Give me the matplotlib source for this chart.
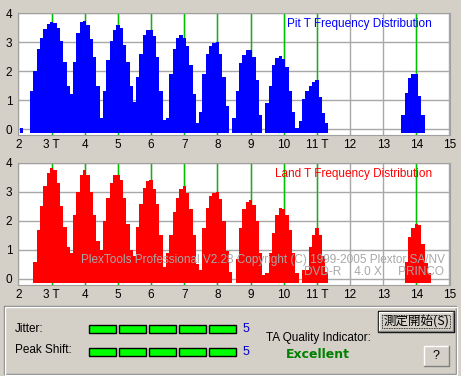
import numpy as np
import matplotlib.pyplot as plt
from matplotlib.patches import Rectangle

# histogram bins, 0.1 T wide (bin centres 2.0 ... 14.9)
t_edges = np.round(np.arange(1.95, 15.0, 0.1), 2)

pit_counts = [
    0, 0.05, 0, 0, 1.3, 2.0, 2.75, 3.15, 3.45, 3.63,      # 2.x
    3.69, 3.66, 3.5, 3.05, 2.3, 1.5, 1.2, 2.3, 3.3, 3.68,  # 3.x
    3.74, 3.6, 3.1, 2.5, 1.5, 0.4, 1.3, 2.4, 3.05, 3.4,    # 4.x
    3.58, 3.5, 2.9, 2.3, 1.5, 0.95, 1.8, 2.6, 3.25, 3.4,   # 5.x
    3.42, 3.2, 2.5, 1.3, 0.33, 0.4, 1.9, 2.75, 3.15, 3.25, # 6.x
    3.15, 2.85, 2.2, 1.2, 0.23, 0.6, 1.9, 2.6, 2.85, 2.97, # 7.x
    3.0, 2.6, 1.8, 0.8, 0, 0.4, 1.3, 2.28, 2.57, 2.72,     # 8.x
    2.72, 2.5, 1.7, 0.5, 0, 0.9, 1.5, 2.2, 2.45, 2.51,     # 9.x
    2.42, 2.15, 1.3, 0.6, 0.05, 0.3, 1.05, 1.3, 1.5, 1.62, # 10.x
    1.7, 1.1, 0.55, 0.2, 0, 0, 0, 0, 0, 0,                 # 11.x
    0, 0, 0, 0, 0, 0, 0, 0, 0, 0,                          # 12.x
    0, 0, 0, 0, 0, 0, 0.5, 1.25, 1.75, 1.9,                # 13.x
    1.9, 1.15, 0.5, 0, 0, 0, 0, 0, 0, 0,                   # 14.x
]

land_counts = [
    0, 0, 0, 0, 0, 0.6, 1.7, 2.5, 3.2, 3.65,               # 2.x
    3.84, 3.75, 3.3, 2.5, 1.8, 1.1, 0.9, 2.2, 3.0, 3.6,    # 3.x
    3.75, 3.6, 3.0, 2.2, 1.3, 1.0, 2.0, 2.8, 3.3, 3.57,    # 4.x
    3.6, 3.4, 2.8, 1.9, 1.0, 0.8, 1.8, 2.6, 3.15, 3.37,    # 5.x
    3.4, 3.1, 2.6, 1.5, 0.4, 0.9, 1.5, 2.3, 2.8, 3.1,      # 6.x
    3.2, 2.95, 2.4, 1.5, 0.5, 0.3, 1.75, 2.45, 2.85, 2.97, # 7.x
    3.0, 2.75, 2.0, 0.95, 0.25, 0, 0.7, 1.75, 2.4, 2.66,   # 8.x
    2.71, 2.55, 2.0, 0.9, 0.15, 0.2, 0.9, 1.6, 2.2, 2.45,  # 9.x
    2.43, 2.2, 1.7, 0.9, 0.2, 0, 0.3, 0.3, 1.1, 1.5,       # 10.x
    1.77, 1.5, 0.8, 0.25, 0, 0, 0, 0, 0, 0,                # 11.x
    0, 0, 0, 0, 0, 0, 0, 0, 0, 0,                          # 12.x
    0, 0, 0, 0, 0, 0, 0, 0.6, 1.45, 1.75,                  # 13.x
    1.88, 1.87, 1.2, 0.55, 0.2, 0, 0, 0, 0, 0,             # 14.x
]

x_ticks = list(range(2, 16))
x_labels = ["2", "3 T", "4", "5", "6", "7", "8", "9", "10", "11 T", "12", "13", "14", "15"]
t_marks = [3, 4, 5, 6, 7, 8, 9, 10, 11, 14]

jitter_level = 5
peak_shift_level = 5
quality = "Excellent"

BG = "#D4D0C8"
BASE = -0.14
plt.rcParams["font.family"] = ["Liberation Sans", "DejaVu Sans"]

fig = plt.figure(figsize=(4.61, 3.76), dpi=100, facecolor=BG)


def draw_hist(rect, counts, color, title):
    ax = fig.add_axes(rect)
    ax.set_facecolor("white")
    counts = np.array(counts, dtype=float)
    vals = np.where(counts > 0, counts, BASE)
    ax.stairs(vals, t_edges, baseline=BASE, fill=True, color=color, lw=0, zorder=3)
    for t in t_marks:
        ax.axvline(t, color="#00C000", lw=1, zorder=2)
    ax.set_xlim(1.985, 15.015)
    ax.set_ylim(-0.2, 4)
    ax.set_xticks(x_ticks)
    ax.set_xticklabels(x_labels)
    ax.set_yticks(range(0, 5))
    ax.grid(True, color="#A8A8A8", lw=1, zorder=1)
    ax.set_axisbelow(True)
    ax.tick_params(length=0, labelsize=8.5, pad=3)
    ax.tick_params(axis="y", pad=4)
    for s in ax.spines.values():
        s.set_color("#A0A0A0")
    ax.text(0.958, 0.91, title, transform=ax.transAxes, ha="right", va="center",
            color=color, fontsize=8.5, zorder=5)
    return ax


ax_pit = draw_hist([0.0390, 0.6407, 0.9371, 0.3247], pit_counts, "#0000FF",
                   "Pit T Frequency Distribution")
ax_land = draw_hist([0.0390, 0.2426, 0.9371, 0.3239], land_counts, "#FF0000",
                    "Land T Frequency Distribution")

ax_land.text(0.988, 0.204, "PlexTools Professional V2.28 Copyright (C) 1999-2005 Plextor SA/NV",
             transform=ax_land.transAxes, ha="right", va="center", color="#A8A8A8",
             fontsize=8.5, zorder=6)
ax_land.text(0.986, 0.105, "DVD-R    4.0 X     PRINCO",
             transform=ax_land.transAxes, ha="right", va="center", color="#A8A8A8",
             fontsize=8.5, zorder=6)

# bottom status panel, drawn in pixel coordinates
ui = fig.add_axes([0, 0, 1, 1], zorder=10)
ui.set_xlim(0, 461)
ui.set_ylim(376, 0)
ui.axis("off")
ui.patch.set_visible(False)

ui.add_patch(Rectangle((3.5, 305.5), 452, 68, fill=False, ec="#808080", lw=1))
ui.add_patch(Rectangle((4.5, 306.5), 452, 68, fill=False, ec="white", lw=1))

ui.text(15, 328.5, "Jitter:", ha="left", va="center", fontsize=8.5)
ui.text(15, 350, "Peak Shift:", ha="left", va="center", fontsize=8.5)

for row_y, level in [(324.5, jitter_level), (347.5, peak_shift_level)]:
    for i in range(level):
        ui.add_patch(Rectangle((88.5 + 30 * i, row_y), 27, 8, fc="#00FF00", ec="black", lw=1))
    ui.text(246, row_y + 4.5, str(level), ha="center", va="center",
            color="#0000C8", fontsize=9)

ui.text(318, 338, "TA Quality Indicator:", ha="center", va="center", fontsize=8.5)
ui.text(318, 355, quality, ha="center", va="center", color="#008000",
        fontsize=9, fontweight="bold", family="DejaVu Sans")


# buttons
def button(x, y, w, h, label, default=False, **kw):
    ui.add_patch(Rectangle((x, y), w, h, fc=BG, ec="black" if default else "none", lw=1))
    ui.plot([x + 1, x + 1, x + w - 1], [y + h - 1, y + 1, y + 1], color="white", lw=1)
    ui.plot([x + 1, x + w - 1, x + w - 1], [y + h - 1, y + h - 1, y + 1], color="#808080", lw=1)
    if default:
        ui.add_patch(Rectangle((x + 4, y + 4), w - 8, h - 8, fill=False, ec="black",
                               lw=0.6, ls=(0, (1, 1))))
    ui.text(x + w / 2, y + h / 2 + 0.5, label, ha="center", va="center", **kw)


button(378, 310.5, 76, 21, "測定開始(S)", default=True, fontsize=9,
       family=["Noto Sans CJK JP", "DejaVu Sans"])
button(422.5, 344.5, 27.5, 22, "?", fontsize=9)

fig.savefig("out.png", dpi=100, facecolor=BG)
